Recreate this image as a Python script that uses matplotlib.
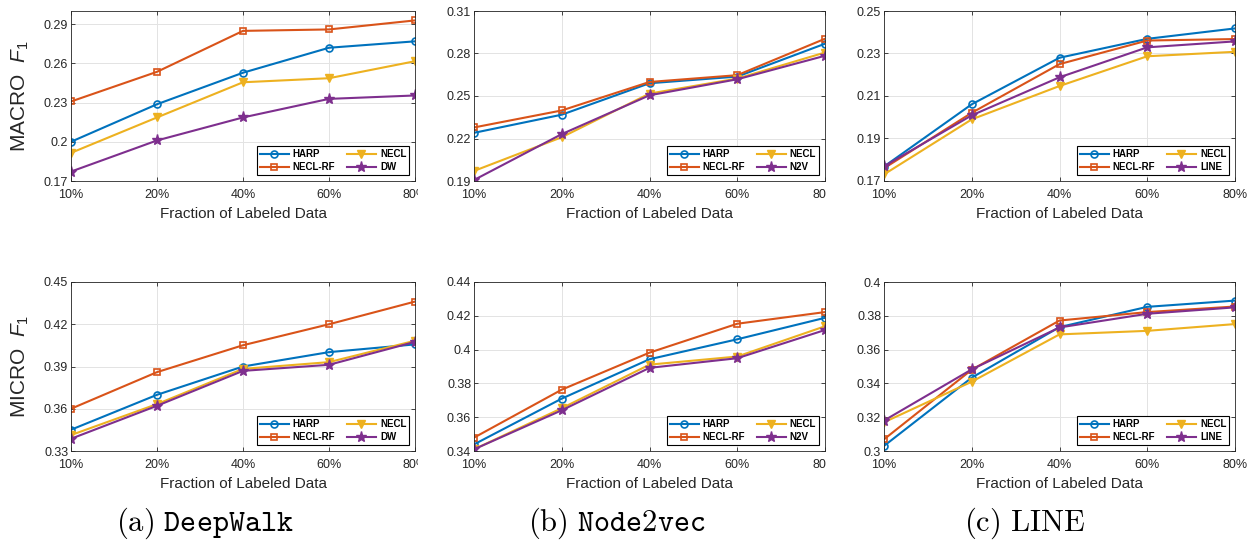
import matplotlib
matplotlib.use("Agg")
import matplotlib.pyplot as plt
from matplotlib.transforms import Bbox, TransformedBbox

plt.rcParams['font.family'] = ['Liberation Sans', 'DejaVu Sans']
plt.rcParams['mathtext.it'] = 'Liberation Sans:italic'
plt.rcParams['mathtext.rm'] = 'Liberation Sans'

# x categories
fractions = ['10%', '20%', '40%', '60%', '80%']
methods = ['HARP', 'NECL-RF', 'NECL']

# (a) DeepWalk
dw_macro_harp = [0.200, 0.2287, 0.2528, 0.2719, 0.2768]
dw_macro_rf = [0.2308, 0.2535, 0.2848, 0.2859, 0.2928]
dw_macro_necl = [0.1915, 0.2186, 0.2455, 0.2486, 0.2616]
dw_macro_base = [0.1772, 0.2010, 0.2186, 0.2328, 0.2354]
dw_micro_harp = [0.3451, 0.3699, 0.3900, 0.4002, 0.4057]
dw_micro_rf = [0.3600, 0.3860, 0.4051, 0.4200, 0.4361]
dw_micro_necl = [0.3413, 0.3633, 0.3883, 0.3931, 0.4083]
dw_micro_base = [0.3387, 0.3621, 0.3869, 0.3912, 0.4075]

# (b) Node2vec
n2v_macro_harp = [0.2240, 0.2368, 0.2590, 0.2637, 0.2869]
n2v_macro_rf = [0.2278, 0.2398, 0.2599, 0.2647, 0.2904]
n2v_macro_necl = [0.1971, 0.2209, 0.2517, 0.2623, 0.2807]
n2v_macro_base = [0.1907, 0.2231, 0.2505, 0.2618, 0.2784]
n2v_micro_harp = [0.3439, 0.3710, 0.3943, 0.4061, 0.4188]
n2v_micro_rf = [0.3479, 0.3763, 0.3982, 0.4153, 0.4222]
n2v_micro_necl = [0.3410, 0.3653, 0.3911, 0.3959, 0.4138]
n2v_micro_base = [0.3410, 0.3641, 0.3892, 0.3949, 0.4116]

# (c) LINE
line_macro_harp = [0.1768, 0.2061, 0.2280, 0.2369, 0.2418]
line_macro_rf = [0.1760, 0.2021, 0.2250, 0.2361, 0.2368]
line_macro_necl = [0.1731, 0.1990, 0.2147, 0.2287, 0.2308]
line_macro_base = [0.1769, 0.2009, 0.2188, 0.2329, 0.2357]
line_micro_harp = [0.3030, 0.3434, 0.3733, 0.3853, 0.3890]
line_micro_rf = [0.3069, 0.3481, 0.3772, 0.3822, 0.3855]
line_micro_necl = [0.3170, 0.3410, 0.3690, 0.3711, 0.3751]
line_micro_base = [0.3180, 0.3483, 0.3731, 0.3812, 0.3850]

base_names = ['DW', 'N2V', 'LINE']
captions = [r'$\mathrm{(a)}\ \mathtt{DeepWalk}$',
            r'$\mathrm{(b)}\ \mathtt{Node2vec}$',
            r'$\mathrm{(c)\ LINE}$']

macro_data = [
    [dw_macro_harp, dw_macro_rf, dw_macro_necl, dw_macro_base],
    [n2v_macro_harp, n2v_macro_rf, n2v_macro_necl, n2v_macro_base],
    [line_macro_harp, line_macro_rf, line_macro_necl, line_macro_base],
]
micro_data = [
    [dw_micro_harp, dw_micro_rf, dw_micro_necl, dw_micro_base],
    [n2v_micro_harp, n2v_micro_rf, n2v_micro_necl, n2v_micro_base],
    [line_micro_harp, line_micro_rf, line_micro_necl, line_micro_base],
]
macro_ticks = [[0.17, 0.2, 0.23, 0.26, 0.29],
               [0.19, 0.22, 0.25, 0.28, 0.31],
               [0.17, 0.19, 0.21, 0.23, 0.25]]
macro_tick_labels = [['0.17', '0.2', '0.23', '0.26', '0.29'],
                     ['0.19', '0.22', '0.25', '0.28', '0.31'],
                     ['0.17', '0.19', '0.21', '0.23', '0.25']]
macro_lims = [(0.17, 0.30), (0.19, 0.31), (0.17, 0.25)]
micro_ticks = [[0.33, 0.36, 0.39, 0.42, 0.45],
               [0.34, 0.36, 0.38, 0.40, 0.42, 0.44],
               [0.30, 0.32, 0.34, 0.36, 0.38, 0.40]]
micro_tick_labels = [['0.33', '0.36', '0.39', '0.42', '0.45'],
                     ['0.34', '0.36', '0.38', '0.4', '0.42', '0.44'],
                     ['0.3', '0.32', '0.34', '0.36', '0.38', '0.4']]
micro_lims = [(0.33, 0.45), (0.34, 0.44), (0.30, 0.40)]

colors = ['#0072BD', '#D95319', '#EDB120', '#7E2F8E']
markers = ['o', 's', 'v', '*']
msizes = [5, 5, 6, 8]
fills = ['none', 'none', None, None]
text_col = '#262626'

W, H = 1255, 542
fig = plt.figure(figsize=(W / 100, H / 100), dpi=100)

col_left = [71, 474, 884]
col_right = [415, 825, 1235]
row_top = [11, 282]
row_bot = [181, 451]
clip_x = [418, 826, None]
cap_x = [205, 617, 1025]


def draw_panel(ax, series, legend_base, ticks, tick_labels, lims, clip):
    x = list(range(len(fractions)))
    for k, ys in enumerate(series):
        name = methods[k] if k < 3 else legend_base
        kw = dict(color=colors[k], marker=markers[k], markersize=msizes[k],
                  lw=1.5, label=name)
        if fills[k] == 'none':
            kw['markerfacecolor'] = 'none'
            kw['markeredgewidth'] = 1.2
        ax.plot(x, ys, **kw)
    ax.set_xlim(0, len(fractions) - 1)
    ax.set_ylim(*lims)
    ax.set_xticks(x)
    ax.set_xticklabels(fractions)
    ax.set_yticks(ticks)
    ax.set_yticklabels(tick_labels)
    ax.grid(True, color='#e3e3e3', lw=0.7)
    ax.set_axisbelow(True)
    ax.tick_params(direction='in', top=True, right=True, length=3, width=0.6,
                   labelsize=9, colors=text_col, pad=6)
    ax.tick_params(axis='y', pad=2)
    for sp in ax.spines.values():
        sp.set_color(text_col)
        sp.set_linewidth(0.6)
    ax.set_xlabel('Fraction of Labeled Data', fontsize=11, color=text_col,
                  labelpad=4)
    leg = ax.legend(loc='lower right', ncol=2, prop={'size': 7, 'weight': 'bold'},
                    handlelength=3.0, handletextpad=0.4, columnspacing=1.2,
                    borderpad=0.3, labelspacing=0.3, borderaxespad=0.6,
                    fancybox=False, framealpha=1)
    leg.get_frame().set_edgecolor('black')
    leg.get_frame().set_linewidth(0.8)
    if clip is not None:
        cb = TransformedBbox(Bbox([[0, 0], [clip / W, 1]]), fig.transFigure)
        for t in ax.get_xticklabels():
            t.set_clip_box(cb)
            t.set_clip_on(True)


for c in range(3):
    for r in range(2):
        left = col_left[c] / W
        width = (col_right[c] - col_left[c]) / W
        bottom = 1 - row_bot[r] / H
        height = (row_bot[r] - row_top[r]) / H
        ax = fig.add_axes([left, bottom, width, height])
        if r == 0:
            draw_panel(ax, macro_data[c], base_names[c], macro_ticks[c],
                       macro_tick_labels[c], macro_lims[c], clip_x[c])
        else:
            draw_panel(ax, micro_data[c], base_names[c], micro_ticks[c],
                       micro_tick_labels[c], micro_lims[c], clip_x[c])
        if c == 0:
            lab = 'MACRO  $F_1$' if r == 0 else 'MICRO  $F_1$'
            ax.set_ylabel(lab, fontsize=15, color=text_col, math_fontfamily='custom')
            ax.yaxis.set_label_coords(-0.115, 0.5)
    fig.text(cap_x[c] / W, 1 - 531 / H, captions[c], fontsize=22,
             ha='center', va='baseline', math_fontfamily='cm')

fig.savefig('out.png', dpi=100)
